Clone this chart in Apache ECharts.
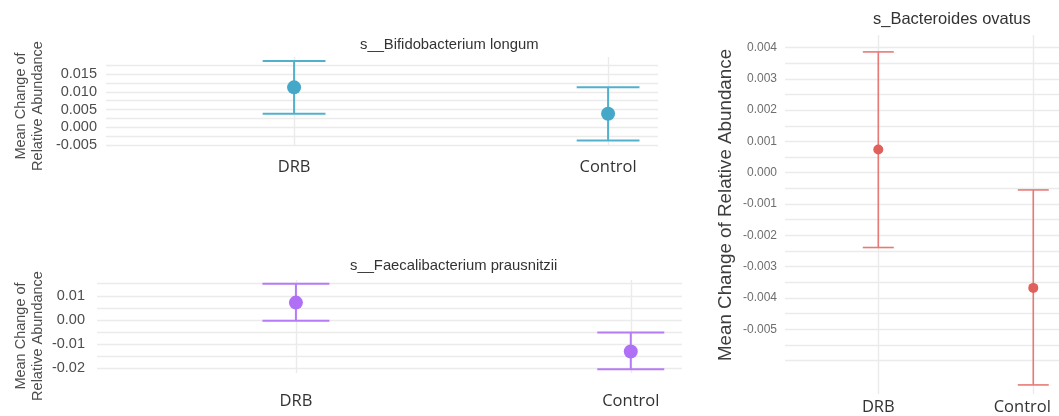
<!DOCTYPE html>
<html>
<head>
<meta charset="utf-8">
<script src="https://cdn.jsdelivr.net/npm/echarts@6/dist/echarts.min.js"></script>
<style>
html,body{margin:0;padding:0;background:#fff;}
#c{width:1059px;height:416px;}
</style>
</head>
<body>
<div id="c"></div>
<script>
// ---- data ----
const categories = ['DRB', 'Control'];

const bifidoTitle = 's__Bifidobacterium longum';
const bifidoMean = [0.01125, 0.0038];
const bifidoLow  = [0.0038, -0.0037];
const bifidoHigh = [0.0187, 0.0113];
const bifidoTicks = [-0.005, 0.000, 0.005, 0.010, 0.015];
const bifidoGrid  = [-0.005, -0.0025, 0, 0.0025, 0.005, 0.0075, 0.01, 0.0125, 0.015, 0.0175];

const faecaliTitle = 's__Faecalibacterium prausnitzii';
const faecaliMean = [0.0072, -0.0130];
const faecaliLow  = [-0.0003, -0.0204];
const faecaliHigh = [0.0150, -0.0052];
const faecaliTicks = [-0.02, -0.01, 0.00, 0.01];
const faecaliGrid  = [-0.02, -0.015, -0.01, -0.005, 0, 0.005, 0.01, 0.015];

const bactTitle = 's_Bacteroides ovatus';
const bactMean = [0.00074, -0.00368];
const bactLow  = [-0.00239, -0.00678];
const bactHigh = [0.00386, -0.00055];
const bactTicks = [-0.005, -0.004, -0.003, -0.002, -0.001, 0.000, 0.001, 0.002, 0.003, 0.004];
const bactGrid  = [-0.006, -0.0055, -0.005, -0.0045, -0.004, -0.0035, -0.003, -0.0025, -0.002, -0.0015, -0.001, -0.0005, 0, 0.0005, 0.001, 0.0015, 0.002, 0.0025, 0.003, 0.0035, 0.004];

const yName = 'Mean Change of Relative Abundance';

// ---- chart ----
const chart = echarts.init(document.getElementById('c'), null, {renderer: 'canvas'});
const catPos = categories.map((c, i) => i + 1);
const gridColor = '#EBEBEB';

function errorBar(capHalf, color, width) {
  return function (params, api) {
    const x = api.value(0), lo = api.value(1), hi = api.value(2);
    const pLo = api.coord([x, lo]);
    const pHi = api.coord([x, hi]);
    const l = api.coord([x - capHalf, hi])[0];
    const r = api.coord([x + capHalf, hi])[0];
    const st = () => ({stroke: color, lineWidth: width, fill: null});
    return {
      type: 'group',
      children: [
        {type: 'line', shape: {x1: pLo[0], y1: pLo[1], x2: pHi[0], y2: pHi[1]}, style: st()},
        {type: 'line', shape: {x1: l, y1: pHi[1], x2: r, y2: pHi[1]}, style: st()},
        {type: 'line', shape: {x1: l, y1: pLo[1], x2: r, y2: pLo[1]}, style: st()}
      ]
    };
  };
}

function panelSeries(idx, mean, low, high, grid, color, barColor, lineW, pointSize) {
  return [
    {
      type: 'line', xAxisIndex: idx, yAxisIndex: idx, data: [], z: 1, silent: true,
      markLine: {
        silent: true, symbol: 'none', animation: false, precision: 8, z: 1,
        label: {show: false},
        emphasis: {disabled: true},
        lineStyle: {color: gridColor, width: 1.4, type: 'solid'},
        data: grid.map(v => ({yAxis: v})).concat(catPos.map(v => ({xAxis: v})))
      }
    },
    {
      type: 'custom', xAxisIndex: idx, yAxisIndex: idx, z: 6,
      renderItem: errorBar(0.1, barColor, lineW),
      encode: {x: 0, y: [1, 2]},
      data: catPos.map((p, i) => [p, low[i], high[i]])
    },
    {
      type: 'scatter', xAxisIndex: idx, yAxisIndex: idx, z: 7,
      symbolSize: pointSize,
      itemStyle: {color: color, opacity: 1},
      data: catPos.map((p, i) => [p, mean[i]])
    }
  ];
}

function xAxisCfg(idx, min, max, margin, lastPad) {
  return {
    type: 'value', gridIndex: idx, min: min, max: max,
    axisLine: {show: false}, axisTick: {show: false}, splitLine: {show: false},
    axisLabel: {
      customValues: catPos,
      margin: margin,
      fontFamily: 'Open Sans', fontSize: 16.5, color: '#333333',
      formatter: function (v) {
        const i = Math.round(v) - 1;
        if (lastPad && i === categories.length - 1) return '{p|' + categories[i] + '}';
        return categories[i];
      },
      rich: {p: {fontFamily: 'Open Sans', fontSize: 16.5, color: '#333333', padding: [0, lastPad || 0, 0, 0]}}
    }
  };
}

function yAxisCfg(idx, min, max, ticks, dec, fontSize, color, margin) {
  return {
    type: 'value', gridIndex: idx, min: min, max: max,
    axisLine: {show: false}, axisTick: {show: false}, splitLine: {show: false},
    axisLabel: {
      customValues: ticks,
      margin: margin,
      fontFamily: 'Liberation Sans', fontSize: fontSize, color: color,
      formatter: v => v.toFixed(dec)
    }
  };
}

const option = {
  animation: false,
  backgroundColor: '#ffffff',
  title: [
    {text: bifidoTitle, left: 360, top: 37, padding: 0,
     textStyle: {fontFamily: 'Liberation Sans', fontSize: 14.8, fontWeight: 'normal', color: '#333333'}},
    {text: faecaliTitle, left: 350, top: 258, padding: 0,
     textStyle: {fontFamily: 'Liberation Sans', fontSize: 14.8, fontWeight: 'normal', color: '#333333'}},
    {text: bactTitle, left: 873, top: 11, padding: 0,
     textStyle: {fontFamily: 'Liberation Sans', fontSize: 16.5, fontWeight: 'normal', color: '#333333'}}
  ],
  graphic: [
    {type: 'text', x: 29.5, y: 106, rotation: Math.PI / 2, silent: true,
     style: {text: 'Mean Change of\nRelative Abundance', align: 'center', verticalAlign: 'middle',
             font: '14.5px "Liberation Sans"', lineHeight: 17, fill: '#4D4D4D'}},
    {type: 'text', x: 29.5, y: 336, rotation: Math.PI / 2, silent: true,
     style: {text: 'Mean Change of\nRelative Abundance', align: 'center', verticalAlign: 'middle',
             font: '14.5px "Liberation Sans"', lineHeight: 17, fill: '#4D4D4D'}},
    {type: 'text', x: 726, y: 205, rotation: Math.PI / 2, silent: true,
     style: {text: yName, align: 'center', verticalAlign: 'middle',
             font: '18.8px "Liberation Sans"', fill: '#3D3D3D'}}
  ],
  grid: [
    {left: 106, top: 57, width: 552, height: 88},
    {left: 97, top: 280, width: 585, height: 93},
    {left: 785, top: 35, width: 274, height: 363}
  ],
  xAxis: [
    xAxisCfg(0, 0.401, 2.159, 14),
    xAxisCfg(1, 0.406, 2.153, 20),
    xAxisCfg(2, 0.398, 2.166, 5, 22)
  ],
  yAxis: [
    yAxisCfg(0, -0.005, 0.0198, bifidoTicks, 3, 14.5, '#4D4D4D', 9),
    yAxisCfg(1, -0.0219, 0.01653, faecaliTicks, 2, 14.5, '#4D4D4D', 12),
    yAxisCfg(2, -0.00707, 0.0044, bactTicks, 3, 12, '#6E6E6E', 8)
  ],
  series: [].concat(
    panelSeries(0, bifidoMean, bifidoLow, bifidoHigh, bifidoGrid, '#45A8C8', '#52B0CD', 2, 14),
    panelSeries(1, faecaliMean, faecaliLow, faecaliHigh, faecaliGrid, '#B070F5', '#B67CF5', 2, 14),
    panelSeries(2, bactMean, bactLow, bactHigh, bactGrid, '#E0605B', '#E77A76', 1.6, 10)
  )
};
chart.setOption(option);
</script>
</body>
</html>
